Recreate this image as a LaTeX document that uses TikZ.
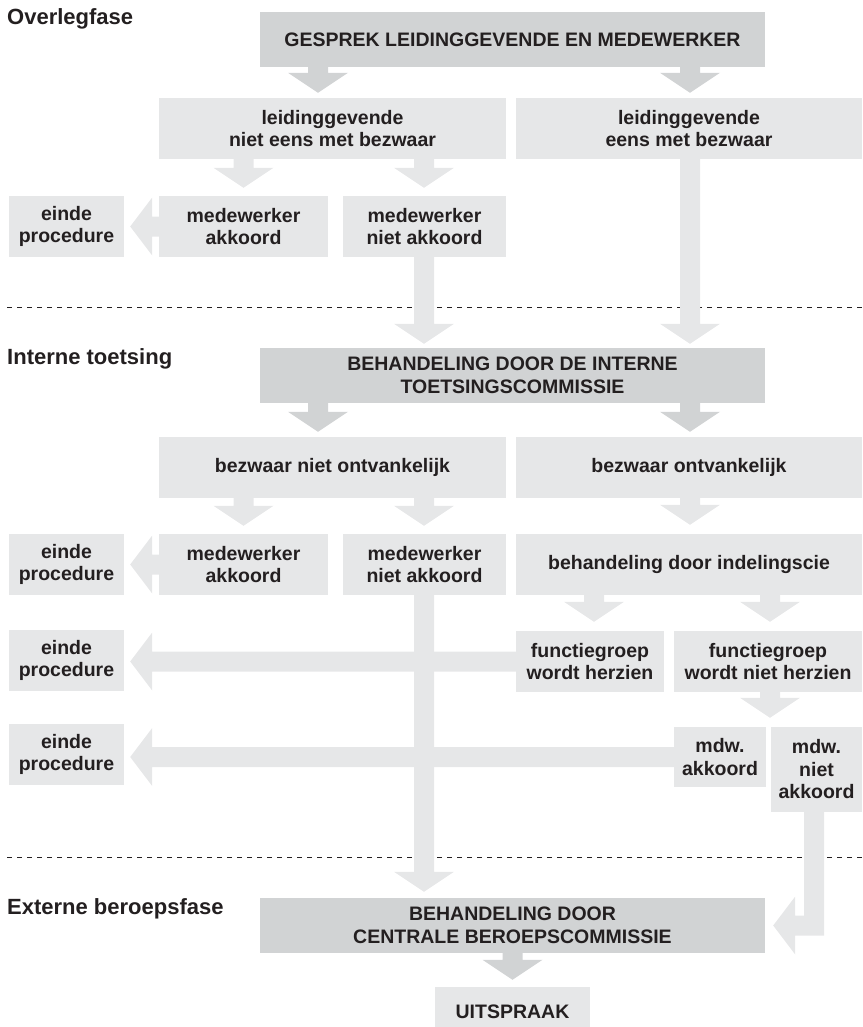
\documentclass[tikz,border=0pt]{standalone}
\usepackage{fontspec}
\setmainfont{Liberation Sans}
\usetikzlibrary{calc}

\definecolor{boxdark}{HTML}{D1D3D4}
\definecolor{boxlight}{HTML}{E6E7E8}
\definecolor{ink}{HTML}{231F20}

\tikzset{
  box/.style={fill=boxlight, text=ink, inner sep=0pt, align=center,
    font=\bfseries\fontsize{19.5}{22.5}\selectfont},
  mainbox/.style={box, fill=boxdark},
  phase/.style={anchor=base west, inner sep=0pt, text=ink,
    font=\bfseries\fontsize{22}{26}\selectfont},
  separator/.style={ink, line width=1pt, dash pattern=on 5pt off 5pt}
}

% block arrows: [colour]{column}{from}{to}{gap}
\newcommand\flowdown[5][boxlight]{%
  \fill[#1] let \p1=(#3.south -| #2), \p2=(#4.north -| #2) in
    (\x1-10pt,\y1) -- (\x1-10pt,\y2+#5pt+20pt) -- (\x1-30pt,\y2+#5pt+20pt)
    -- (\x1,\y2+#5pt) -- (\x1+30pt,\y2+#5pt+20pt) -- (\x1+10pt,\y2+#5pt+20pt)
    -- (\x1+10pt,\y1) -- cycle;}
\newcommand\flowleft[2]{%
  \fill[boxlight] let \p1=(#1.west), \p2=(#2.east) in
    (\x1,\y1+10pt) -- (\x2+28pt,\y1+10pt) -- (\x2+28pt,\y1+29pt) -- (\x2+6pt,\y1)
    -- (\x2+28pt,\y1-29pt) -- (\x2+28pt,\y1-10pt) -- (\x1,\y1-10pt) -- cycle;}
\newcommand\flowturn[3]{%
  \fill[boxlight] let \p1=(#2.south -| #1), \p2=(#3.east) in
    (\x1-10pt,\y1) -- (\x1-10pt,\y2+10pt) -- (\x2+30pt,\y2+10pt) -- (\x2+30pt,\y2+29pt)
    -- (\x2+8pt,\y2) -- (\x2+30pt,\y2-29pt) -- (\x2+30pt,\y2-10pt)
    -- (\x1+10pt,\y2-10pt) -- (\x1+10pt,\y1) -- cycle;}

\begin{document}
\begin{tikzpicture}[x=1pt, y=-1pt]
\useasboundingbox (0,0) rectangle (862,1027);

\draw[separator] (7,307.5) -- (862,307.5);
\draw[separator] (7,857.5) -- (862,857.5);

\node[phase] (overleg) at (7,25) {Overlegfase};
\node[phase] (intern) at (7,364) {Interne toetsing};
\node[phase] (extern) at (7,914) {Externe beroepsfase};

\node[mainbox, minimum width=505pt, minimum height=55pt] (gesprek) at (512.5,39.5) {GESPREK LEIDINGGEVENDE EN MEDEWERKER};
\node[box, minimum width=347pt, minimum height=61pt] (nieteens) at (332.5,128.5) {leidinggevende\\niet eens met bezwaar};
\node[box, minimum width=346pt, minimum height=61pt] (eens) at (689,128.5) {leidinggevende\\eens met bezwaar};
\node[box, minimum width=115pt, minimum height=61pt] (einde1) at (66.5,226.5) {einde\\procedure};
\node[box, minimum width=169pt, minimum height=61pt] (mwakk1) at (243.5,226.5) {medewerker\\akkoord};
\node[box, minimum width=163pt, minimum height=61pt] (mwniet1) at (424.5,226.5) {medewerker\\niet akkoord};

\node[mainbox, minimum width=505pt, minimum height=55pt] (interne) at (512.5,375.5) {BEHANDELING DOOR DE INTERNE\\TOETSINGSCOMMISSIE};
\node[box, minimum width=347pt, minimum height=61pt] (nietontv) at (332.5,467.5) {bezwaar niet ontvankelijk};
\node[box, minimum width=346pt, minimum height=61pt] (ontv) at (689,467.5) {bezwaar ontvankelijk};
\node[box, minimum width=115pt, minimum height=61pt] (einde2) at (66.5,564.5) {einde\\procedure};
\node[box, minimum width=169pt, minimum height=61pt] (mwakk2) at (243.5,564.5) {medewerker\\akkoord};
\node[box, minimum width=163pt, minimum height=61pt] (mwniet2) at (424.5,564.5) {medewerker\\niet akkoord};
\node[box, minimum width=346pt, minimum height=61pt] (indeling) at (689,564.5) {behandeling door indelingscie};
\node[box, minimum width=115pt, minimum height=61pt] (einde3) at (66.5,660.5) {einde\\procedure};
\node[box, minimum width=148pt, minimum height=61pt] (herzien) at (590,661.5) {functiegroep\\wordt herzien};
\node[box, minimum width=188pt, minimum height=61pt] (nietherzien) at (768,661.5) {functiegroep\\wordt niet herzien};
\node[box, minimum width=115pt, minimum height=61pt] (einde4) at (66.5,754.5) {einde\\procedure};
\node[box, minimum width=92pt, minimum height=60pt] (mdwakk) at (720,757) {mdw.\\akkoord};
\node[box, minimum width=91pt, minimum height=85pt] (mdwniet) at (816.5,769.5) {mdw.\\niet\\akkoord};

\node[mainbox, minimum width=505pt, minimum height=55pt] (centrale) at (512.5,925.5) {BEHANDELING DOOR\\CENTRALE BEROEPSCOMMISSIE};
\node[box, minimum width=155pt, minimum height=50pt] (uitspraak) at (512.5,1012) {UITSPRAAK};

\coordinate (colA) at (318,0);
\coordinate (colB) at (690,0);
\coordinate (colC) at (243.5,0);
\coordinate (colD) at (424,0);
\coordinate (colE) at (594,0);
\coordinate (colF) at (770,0);
\coordinate (colG) at (512.5,0);
\coordinate (colH) at (814,0);

\flowdown[boxdark]{colA}{gesprek}{nieteens}{5}
\flowdown[boxdark]{colB}{gesprek}{eens}{5}
\flowdown{colC}{nieteens}{mwakk1}{8}
\flowdown{colD}{nieteens}{mwniet1}{8}
\flowleft{mwakk1}{einde1}
\flowdown{colD}{mwniet1}{interne}{4}
\flowdown{colB}{eens}{interne}{4}

\flowdown[boxdark]{colA}{interne}{nietontv}{5}
\flowdown[boxdark]{colB}{interne}{ontv}{5}
\flowdown{colC}{nietontv}{mwakk2}{8}
\flowdown{colD}{nietontv}{mwniet2}{8}
\flowdown{colB}{ontv}{indeling}{9}
\flowleft{mwakk2}{einde2}
\flowdown{colE}{indeling}{herzien}{9}
\flowdown{colF}{indeling}{nietherzien}{9}
\flowdown{colF}{nietherzien}{mdwakk}{9}
\flowdown{colD}{mwniet2}{centrale}{6}
\flowleft{herzien}{einde3}
\flowleft{mdwakk}{einde4}
\flowturn{colH}{mdwniet}{centrale}

\flowdown[boxdark]{colG}{centrale}{uitspraak}{7}
\end{tikzpicture}
\end{document}
